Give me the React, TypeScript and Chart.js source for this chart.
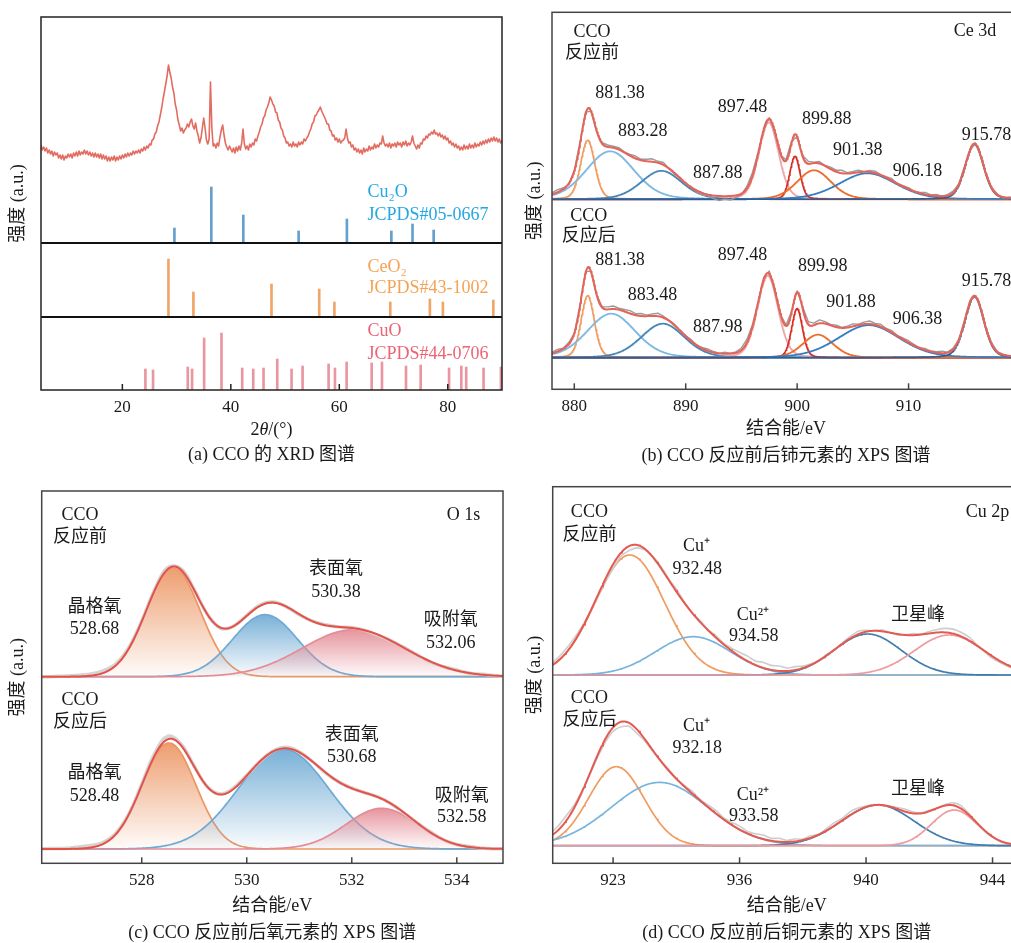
import React, { useEffect, useRef } from 'react';
import { Chart, registerables } from 'chart.js';

Chart.register(...registerables);

const FONT = '"Liberation Serif", "Noto Sans CJK SC", serif';
const INK = '#1a1a1a';

// ================= (a) XRD =================
// measured every 0.25° from 5° to 90°
const xrdStart = 5;
const xrdStep = 0.25;
const xrdIntensity = [
  245, 240, 243, 239, 242, 237, 240, 236, 239, 234, 238, 235, 237, 232, 235, 231, 235, 230, 234, 232,
  236, 233, 236, 232, 237, 234, 238, 234, 239, 235, 238, 236, 240, 236, 239, 235, 238, 234, 237, 233,
  237, 233, 236, 232, 236, 231, 235, 231, 234, 229, 233, 229, 233, 230, 234, 229, 233, 230, 234, 231,
  235, 232, 236, 233, 237, 234, 237, 235, 239, 236, 239, 237, 240, 237, 241, 239, 243, 240, 244, 242,
  246, 245, 250, 251, 256, 258, 264, 268, 275, 282, 291, 298, 306, 314, 325, 318, 312, 303, 297, 286,
  280, 270, 265, 259, 262, 257, 260, 262, 266, 263, 268, 271, 264, 261, 267, 259, 254, 247, 252, 262,
  272, 262, 250, 246, 251, 308, 262, 244, 246, 242, 247, 244, 253, 260, 265, 255, 247, 243, 240, 244,
  241, 238, 242, 237, 243, 239, 244, 240, 247, 261, 246, 241, 244, 240, 246, 243, 247, 245, 251, 249,
  254, 258, 263, 266, 272, 274, 280, 283, 287, 293, 290, 286, 284, 278, 277, 270, 268, 262, 260, 254,
  252, 247, 248, 244, 246, 243, 248, 244, 246, 243, 248, 245, 248, 246, 251, 249, 252, 254, 258, 261,
  266, 268, 274, 275, 278, 280, 283, 279, 276, 273, 270, 266, 266, 260, 259, 254, 255, 250, 252, 248,
  251, 247, 249, 250, 252, 261, 252, 247, 248, 243, 245, 240, 242, 238, 241, 237, 240, 236, 242, 238,
  241, 239, 244, 240, 243, 241, 246, 242, 245, 243, 247, 246, 254, 247, 244, 246, 243, 247, 242, 246,
  244, 247, 243, 248, 245, 247, 243, 248, 245, 249, 244, 247, 245, 248, 254, 247, 244, 241, 245, 242,
  247, 246, 251, 250, 254, 252, 256, 255, 258, 256, 260, 256, 257, 254, 257, 253, 255, 251, 254, 250,
  252, 247, 249, 245, 247, 243, 246, 242, 244, 240, 243, 240, 245, 241, 244, 241, 246, 242, 245, 242,
  247, 243, 246, 244, 248, 245, 249, 246, 250, 247, 251, 248, 252, 249, 253, 249, 252, 248, 251, 247,
  250,
];
const xrdTicks = [20, 40, 60, 80];

const cu2oAngles = [29.6, 36.4, 42.3, 52.5, 61.4, 69.6, 73.5, 77.4];
const cu2oHeights = [15, 56, 28, 12, 24, 12, 19, 13];
const ceo2Angles = [28.5, 33.1, 47.5, 56.3, 59.1, 69.4, 76.7, 79.1, 88.4];
const ceo2Heights = [58, 25, 33, 28, 15, 15, 18, 15, 17];
const cuoAngles = [24.25, 25.66, 32.06, 32.86, 35.08, 38.28, 42.1, 44.13, 46.03, 48.56, 51.2, 53.23, 58.03, 59.2, 61.35, 65.97, 67.87, 72.3, 75.0, 80.24, 82.5, 83.4, 86.6, 89.8];
const cuoHeights = [21, 20, 23, 21, 52, 57, 22, 21, 22, 31, 21, 24, 26, 22, 28, 27, 28, 24, 25, 22, 24, 23, 22, 23];
// offsets of the three stacked sub-panels (a.u.)
const cu2oBase = 147;
const ceo2Base = 73;
const cuoBase = 0;

// ================= (b) Ce 3d =================
const ceTicks = [880, 890, 900, 910];
const ceBaseBefore = 190;
const ceBaseAfter = 31.6;
const ceCentersBefore = [881.2, 883.2, 887.8, 897.44, 899.8, 901.5, 906.3, 915.9];
const ceHeightsBefore = [59, 48, 28.5, 77, 43, 29, 26, 55];
const ceWidthsBefore = [1.5, 5.1, 4.3, 2.1, 1.1, 3.6, 6.0, 1.95];
const ceCentersAfter = [881.2, 883.3, 887.93, 897.35, 899.99, 901.85, 906.42, 915.9];
const ceHeightsAfter = [62, 44, 34, 82, 49, 23, 32.5, 61];
const ceWidthsAfter = [1.4, 5.1, 4.6, 2.2, 1.15, 3.2, 6.5, 2.0];
const ceRawStart = 878;
const ceRawStep = 0.5;
const ceResidualBefore = [
  1.5, 2.5, 1, -1, 0.5, 1.5, 2, 0, -1, 1, 2, 1.5, 2, 0.5, 1.5, 2.5, 1, 2, 3, 1.5,
  2.5, 0, -1, 1, -0.5, 0.5, -1.5, -2, -1, -3, -4.5, -3, -4, -2, -1, 2, 3, 1, -1, 1.5,
  0, -2, 1, 2, 0, 1, 2.5, 1, 2, 0.5, 2, 1.5, 3, 1, 1.5, 2, 0, 1.5, 2, 0.5,
  1, 2, 0, 1, 1.5, 0, 1, 2, 0.5, 1.5, 0, 1, 1.5, 0, 1, -1, 1, 0, -0.5, 1,
  0.5, -1, 0.5, 1, 0,
];
const ceResidualAfter = [
  1, 2, 0.5, 1.5, -0.5, 1, 2, 0.5, -0.5, 1, 2.5, 3, 1.5, 2, 3, 1.5, 2.5, 1, 2, 3,
  1.5, 0.5, 1, -0.5, 0.5, 1.5, 0, 1, 2, 1, 0, 1.5, 0.5, 1, 2, 3, 1.5, 0, 2, 3,
  1, -1, 1, 0.5, 1.5, 2, 3, 2, 3.5, 2, 1, 2, 0.5, 1.5, 2.5, 1, 2, 3, 1.5, 2.5,
  1, 2, 0.5, 1.5, 2, 1, 0, 1.5, 0.5, 1, 2, 0.5, 1, -0.5, 1, 2, 0.5, 1, 0, 1.5,
  0.5, 1, 0, 0.5, 0,
];

// ================= (c) O 1s =================
const oTicks = [528, 530, 532, 534];
const oBaseBefore = 186.6;
const oBaseAfter = 14.3;
const oCentersBefore = [528.6, 530.35, 532.03];
const oHeightsBefore = [109, 62, 47];
const oWidthsBefore = [1.21, 1.45, 2.3];
const oCentersAfter = [528.52, 530.7, 532.57];
const oHeightsAfter = [106, 99.7, 40.7];
const oWidthsAfter = [1.2, 2.03, 1.6];
const oRawStart = 526;
const oRawStep = 0.25;
const oResidualBefore = [0, 0, 0.5, 1, 1.5, 2, 1.5, 1, 0.5, 1, 1.5, 1, 0.5, 0, -0.5, 0, 0.5, 1, 0.5, 0, -0.5, 0, 0.5, 0, 0.5, 0, -0.5, 0, 0.5, 0, -0.5, 0, 0.5, 0, 0.5, 0, 0];
const oResidualAfter = [0, 0.5, 0.5, 1.5, 2, 1.5, 1, 0.5, 1, 2, 3, 1.5, 0.5, 0, 0.5, 1, 0.5, 0, 0.5, 1, 0.5, 0, -0.5, 0, 0.5, 0, 0.5, 0, -0.5, 0, 0.5, 0, 0, 0.5, 0, 0, 0];

// ================= (d) Cu 2p =================
const cuTickValues = [932, 936, 940, 944];
const cuTickLabels = ['923', '936', '940', '944'];
const cuBaseBefore = 188.3;
const cuBaseAfter = 17.6;
const cuCentersBefore = [932.53, 934.53, 940.05, 942.63];
const cuHeightsBefore = [120, 38.3, 41, 40];
const cuWidthsBefore = [2.58, 2.8, 2.5, 2.6];
const cuCentersAfter = [932.1, 933.47, 940.37, 942.79];
const cuHeightsAfter = [79, 63.3, 40.7, 35.7];
const cuWidthsAfter = [2.05, 3.6, 2.7, 1.7];
const cuRawStart = 930;
const cuRawStep = 0.25;
const cuResidualBefore = [
  2, 3, 4, 3.5, 2, 0, -1.5, -3, -4, -3.5, -4.5, -3, -1, 0.5, 2, 1, 2.5, 1, 0, 1.5,
  0.5, 2, 1, 2.5, 4, 5, 4, 5.5, 4.5, 5, 3, 3.5, 2, 1, 0, 1, -0.5, 1, 2, 3,
  1.5, 0, 1.5, 0, -1, 0.5, 1.5, 0.5, 2, 3, 4, 4.5, 4, 3.5, 1, -1, -2, -1.5, -1, -0.5,
  0,
];
const cuResidualAfter = [
  3, 4, 5, 3, 1, -1, -2, -3, -4, -5, -3.5, -4, -2, -1, 0.5, 1.5, 0, 1, 2.5, 1,
  2, 3, 1.5, 2.5, 3.5, 2, 3, 4, 2.5, 3.5, 1.5, 2.5, 1, 2, 0.5, 2, 3, 2, 3.5, 2.5,
  1, 0.5, -0.5, 0.5, 1.5, 2.5, 1.5, 0.5, 1, 0, 1, 2.5, 3, 1.5, 0, -1, -0.5, -1, 0, 0.5,
  0,
];

// ================= helpers =================
const pv = (x: number, c: number, h: number, w: number, eta: number) => {
  const d = (x - c) / w;
  return h * ((1 - eta) * Math.exp(-4 * Math.LN2 * d * d) + eta / (1 + 4 * d * d));
};

const evalGrid = (min: number, max: number, step: number) => {
  const g: number[] = [];
  for (let i = 0; ; i++) {
    const x = min + i * step;
    if (x > max + 1e-9) break;
    g.push(x);
  }
  return g;
};

const lineDs = (extra: any) => ({
  showLine: true,
  pointRadius: 0,
  pointHoverRadius: 0,
  fill: false,
  tension: 0,
  borderJoinStyle: 'round',
  ...extra,
});

const gradFill = (rgb: string, base: number, h: number) => (c: any) => {
  const chart = c.chart;
  if (!chart.chartArea) return 'rgba(0,0,0,0)';
  const ys = chart.scales.y;
  const t = ys.getPixelForValue(base + h);
  const b = ys.getPixelForValue(base);
  const g = chart.ctx.createLinearGradient(0, t, 0, b);
  g.addColorStop(0, `rgba(${rgb},0.92)`);
  g.addColorStop(1, `rgba(${rgb},0.03)`);
  return g;
};

interface SpecOpts {
  grid: number[];
  base: number;
  centers: number[];
  heights: number[];
  widths: number[];
  eta: number;
  colors: string[];
  envColor: string;
  rawColor: string;
  rawWidth: number;
  rawTension: number;
  rawStart: number;
  rawStep: number;
  residual: number[];
  fill?: boolean;
}

function spectrum(o: SpecOpts) {
  const env = (x: number) => o.centers.reduce((s, c, k) => s + pv(x, c, o.heights[k], o.widths[k], o.eta), 0);
  const ds: any[] = [];
  ds.push(lineDs({ data: o.grid.map((x) => ({ x, y: o.base + env(x) })), borderColor: o.envColor, borderWidth: 2, order: 0 }));
  ds.push(
    lineDs({
      data: o.residual.map((r, i) => {
        const x = o.rawStart + i * o.rawStep;
        return { x, y: o.base + env(x) + r };
      }),
      borderColor: o.rawColor,
      borderWidth: o.rawWidth,
      tension: o.rawTension,
      order: 1,
    })
  );
  const n = o.centers.length;
  o.centers.forEach((c, k) => {
    const rgb = o.colors[k];
    ds.push(
      lineDs({
        data: o.grid.map((x) => ({ x, y: o.base + pv(x, c, o.heights[k], o.widths[k], o.eta) })),
        borderColor: `rgb(${rgb})`,
        borderWidth: 1.7,
        order: 2 + (n - k),
        fill: o.fill ? { value: o.base } : false,
        backgroundColor: o.fill ? gradFill(rgb, o.base, o.heights[k]) : 'rgba(0,0,0,0)',
      })
    );
  });
  return ds;
}

type Txt = { x: number; y: number; text: string; color?: string; align?: CanvasTextAlign };
type Part = { t: string; italic?: boolean };

function decor(texts: Txt[], frameColor: string, separators: number[] = [], xTitleParts?: Part[]) {
  return {
    id: 'decor',
    afterDraw(chart: any) {
      const { ctx, chartArea: a, scales } = chart;
      const xs = scales.x;
      const ys = scales.y;
      ctx.save();
      ctx.strokeStyle = '#111';
      ctx.lineWidth = 2;
      for (const v of separators) {
        const py = ys.getPixelForValue(v);
        ctx.beginPath();
        ctx.moveTo(a.left, py);
        ctx.lineTo(a.right, py);
        ctx.stroke();
      }
      ctx.strokeStyle = frameColor;
      ctx.lineWidth = 1.5;
      for (const t of xs.ticks) {
        const px = xs.getPixelForValue(t.value);
        ctx.beginPath();
        ctx.moveTo(px, a.bottom);
        ctx.lineTo(px, a.bottom - 6);
        ctx.stroke();
      }
      ctx.strokeRect(a.left, a.top, a.right - a.left, a.bottom - a.top);
      ctx.textBaseline = 'middle';
      ctx.font = `18px ${FONT}`;
      for (const t of texts) {
        ctx.fillStyle = t.color || INK;
        ctx.textAlign = t.align || 'center';
        ctx.fillText(t.text, xs.getPixelForValue(t.x), ys.getPixelForValue(t.y));
      }
      if (xTitleParts) {
        const fontOf = (p: Part) => `${p.italic ? 'italic ' : ''}18px ${FONT}`;
        let total = 0;
        for (const p of xTitleParts) {
          ctx.font = fontOf(p);
          total += ctx.measureText(p.t).width;
        }
        let x = (a.left + a.right) / 2 - total / 2;
        const y = xs.bottom - 10.8;
        ctx.textAlign = 'left';
        ctx.fillStyle = INK;
        for (const p of xTitleParts) {
          ctx.font = fontOf(p);
          ctx.fillText(p.t, x, y);
          x += ctx.measureText(p.t).width;
        }
      }
      ctx.restore();
    },
  };
}

interface BaseOpts {
  xMin: number;
  xMax: number;
  yMax: number;
  ticks: number[];
  tickLabels?: string[];
  xTitle: string;
  showXTitle?: boolean;
  caption: string;
  yAxisWidth: number;
  yTitlePad: number;
  pad: { top: number; right: number; bottom: number };
  xAxisHeight: number;
  captionPad: number;
}

function baseOptions(p: BaseOpts): any {
  return {
    responsive: false,
    animation: false,
    events: [],
    layout: { padding: { left: 0, top: p.pad.top, right: p.pad.right, bottom: p.pad.bottom } },
    plugins: {
      legend: { display: false },
      tooltip: { enabled: false },
      title: {
        display: true,
        position: 'bottom',
        fullSize: false,
        text: p.caption,
        color: INK,
        font: { family: FONT, size: 18, weight: 'normal', lineHeight: 1.2 },
        padding: { top: p.captionPad, bottom: 0 },
      },
    },
    scales: {
      x: {
        type: 'linear',
        min: p.xMin,
        max: p.xMax,
        offset: false,
        afterBuildTicks: (s: any) => {
          s.ticks = p.ticks.map((v) => ({ value: v }));
        },
        afterFit: (s: any) => {
          s.height = p.xAxisHeight;
        },
        grid: { display: false, drawTicks: false },
        border: { display: false },
        ticks: {
          padding: 7,
          color: INK,
          maxRotation: 0,
          autoSkip: false,
          font: { family: FONT, size: 17 },
          callback: (v: any, i: number) => (p.tickLabels ? p.tickLabels[i] : String(v)),
        },
        title: {
          display: p.showXTitle !== false,
          text: p.xTitle,
          color: INK,
          font: { family: FONT, size: 18, lineHeight: 1.2 },
          padding: { top: 0, bottom: 0 },
        },
      },
      y: {
        type: 'linear',
        min: 0,
        max: p.yMax,
        afterFit: (s: any) => {
          s.width = p.yAxisWidth;
        },
        grid: { display: false, drawTicks: false },
        border: { display: false },
        ticks: { display: false },
        title: {
          display: true,
          text: '强度 (a.u.)',
          color: INK,
          font: { family: FONT, size: 18, lineHeight: 1.2 },
          padding: { top: p.yTitlePad, bottom: 0 },
        },
      },
    },
  };
}

// ================= panel builders =================
function makeA(): any {
  const sticks = (angles: number[], heights: number[], base: number, color: string) => ({
    type: 'bar',
    data: angles.map((a, i) => ({ x: a, y: [base, base + heights[i]] })),
    backgroundColor: color,
    borderWidth: 0,
    barThickness: 2,
    grouped: false,
    order: 3,
  });
  const texts: Txt[] = [
    { x: 65.2, y: 197.3, text: 'Cu₂O', color: 'rgb(35,168,225)', align: 'left' },
    { x: 65.2, y: 175, text: 'JCPDS#05-0667', color: 'rgb(35,168,225)', align: 'left' },
    { x: 65.2, y: 122.7, text: 'CeO₂', color: 'rgb(243,163,85)', align: 'left' },
    { x: 65.2, y: 101.7, text: 'JCPDS#43-1002', color: 'rgb(243,163,85)', align: 'left' },
    { x: 65.2, y: 59, text: 'CuO', color: 'rgb(236,100,115)', align: 'left' },
    { x: 65.2, y: 36, text: 'JCPDS#44-0706', color: 'rgb(236,100,115)', align: 'left' },
  ];
  const options = baseOptions({
    xMin: 5, xMax: 90, yMax: 373, ticks: xrdTicks, xTitle: '2θ/(°)', showXTitle: false, caption: '(a) CCO 的 XRD 图谱',
    yAxisWidth: 41, yTitlePad: 7, pad: { top: 17, right: 8, bottom: 4.4 }, xAxisHeight: 51, captionPad: 3,
  });
  return {
    type: 'scatter',
    data: {
      datasets: [
        lineDs({ data: xrdIntensity.map((v, i) => ({ x: xrdStart + i * xrdStep, y: v })), borderColor: 'rgb(226,108,96)', borderWidth: 1.6, order: 1 }),
        sticks(cu2oAngles, cu2oHeights, cu2oBase, 'rgb(100,160,205)'),
        sticks(ceo2Angles, ceo2Heights, ceo2Base, 'rgb(240,165,105)'),
        sticks(cuoAngles, cuoHeights, cuoBase, 'rgb(234,150,160)'),
      ],
    },
    options,
    plugins: [decor(texts, '#222', [cu2oBase, ceo2Base], [{ t: '2' }, { t: 'θ', italic: true }, { t: '/(°)' }])],
  };
}

function makeB(): any {
  const grid = evalGrid(878, 920, 0.05);
  const colors = ['242,155,95', '125,185,225', '70,135,185', '238,165,170', '215,45,35', '236,110,45', '50,125,195', '45,95,150'];
  const common = { grid, eta: 0.2, colors, envColor: 'rgb(228,100,90)', rawColor: 'rgb(155,155,155)', rawWidth: 1.4, rawTension: 0, rawStart: ceRawStart, rawStep: ceRawStep };
  const ds = [
    ...spectrum({ ...common, base: ceBaseBefore, centers: ceCentersBefore, heights: ceHeightsBefore, widths: ceWidthsBefore, residual: ceResidualBefore }),
    ...spectrum({ ...common, base: ceBaseAfter, centers: ceCentersAfter, heights: ceHeightsAfter, widths: ceWidthsAfter, residual: ceResidualAfter }),
  ];
  const texts: Txt[] = [
    { x: 881.6, y: 357.3, text: 'CCO' },
    { x: 881.6, y: 336, text: '反应前' },
    { x: 915.96, y: 357.6, text: 'Ce 3d' },
    { x: 884.1, y: 296, text: '881.38' },
    { x: 886.14, y: 257.6, text: '883.28' },
    { x: 892.87, y: 216, text: '887.88' },
    { x: 895.1, y: 282, text: '897.48' },
    { x: 902.65, y: 270.3, text: '899.88' },
    { x: 905.43, y: 238.6, text: '901.38' },
    { x: 910.8, y: 217.6, text: '906.18' },
    { x: 917.0, y: 254.3, text: '915.78' },
    { x: 881.3, y: 173.3, text: 'CCO' },
    { x: 881.3, y: 152.6, text: '反应后' },
    { x: 884.1, y: 129.3, text: '881.38' },
    { x: 887.03, y: 94.3, text: '883.48' },
    { x: 892.87, y: 62, text: '887.98' },
    { x: 895.1, y: 134.3, text: '897.48' },
    { x: 902.3, y: 122.6, text: '899.98' },
    { x: 904.83, y: 86.6, text: '901.88' },
    { x: 910.8, y: 70, text: '906.38' },
    { x: 917.0, y: 107.6, text: '915.78' },
  ];
  const options = baseOptions({
    xMin: 878, xMax: 920, yMax: 377, ticks: ceTicks, xTitle: '结合能/eV', caption: '(b) CCO 反应前后铈元素的 XPS 图谱',
    yAxisWidth: 47, yTitlePad: 19, pad: { top: 12.3, right: 15, bottom: 2.5 }, xAxisHeight: 51, captionPad: 5.6,
  });
  return { type: 'scatter', data: { datasets: ds }, options, plugins: [decor(texts, '#444')] };
}

function makeC(): any {
  const grid = evalGrid(526.095, 534.88, 0.02);
  const colors = ['236,150,100', '110,170,212', '228,140,150'];
  const common = { grid, eta: 0, colors, envColor: 'rgb(230,80,70)', rawColor: 'rgb(212,212,212)', rawWidth: 3.5, rawTension: 0.4, rawStart: oRawStart, rawStep: oRawStep, fill: true };
  const ds = [
    ...spectrum({ ...common, base: oBaseBefore, centers: oCentersBefore, heights: oHeightsBefore, widths: oWidthsBefore, residual: oResidualBefore }),
    ...spectrum({ ...common, base: oBaseAfter, centers: oCentersAfter, heights: oHeightsAfter, widths: oWidthsAfter, residual: oResidualAfter }),
  ];
  const texts: Txt[] = [
    { x: 526.825, y: 348.3, text: 'CCO' },
    { x: 526.825, y: 326, text: '反应前' },
    { x: 534.13, y: 348.3, text: 'O 1s' },
    { x: 527.1, y: 255.6, text: '晶格氧' },
    { x: 527.1, y: 234, text: '528.68' },
    { x: 531.7, y: 294, text: '表面氧' },
    { x: 531.7, y: 270.6, text: '530.38' },
    { x: 533.886, y: 242.6, text: '吸附氧' },
    { x: 533.886, y: 220, text: '532.06' },
    { x: 526.825, y: 162.6, text: 'CCO' },
    { x: 526.825, y: 140.6, text: '反应后' },
    { x: 527.1, y: 90, text: '晶格氧' },
    { x: 527.1, y: 66.6, text: '528.48' },
    { x: 532.0, y: 128.3, text: '表面氧' },
    { x: 532.0, y: 106, text: '530.68' },
    { x: 534.095, y: 66.6, text: '吸附氧' },
    { x: 534.095, y: 46, text: '532.58' },
  ];
  const options = baseOptions({
    xMin: 526.095, xMax: 534.88, yMax: 372.3, ticks: oTicks, xTitle: '结合能/eV', caption: '(c) CCO 反应前后氧元素的 XPS 图谱',
    yAxisWidth: 41.7, yTitlePad: 7, pad: { top: 11, right: 7, bottom: 5.9 }, xAxisHeight: 54, captionPad: 5.2,
  });
  return { type: 'scatter', data: { datasets: ds }, options, plugins: [decor(texts, '#444')] };
}

function makeD(): any {
  const grid = evalGrid(930.09, 944.9, 0.03);
  const colors = ['240,155,95', '120,180,222', '65,125,175', '238,155,160'];
  const common = { grid, eta: 0, colors, envColor: 'rgb(228,90,80)', rawColor: 'rgb(205,205,205)', rawWidth: 1.6, rawTension: 0.2, rawStart: cuRawStart, rawStep: cuRawStep };
  const ds = [
    ...spectrum({ ...common, base: cuBaseBefore, centers: cuCentersBefore, heights: cuHeightsBefore, widths: cuWidthsBefore, residual: cuResidualBefore }),
    ...spectrum({ ...common, base: cuBaseAfter, centers: cuCentersAfter, heights: cuHeightsAfter, widths: cuWidthsAfter, residual: cuResidualAfter }),
  ];
  const texts: Txt[] = [
    { x: 931.25, y: 351, text: 'CCO' },
    { x: 931.25, y: 328.3, text: '反应前' },
    { x: 943.84, y: 351, text: 'Cu 2p' },
    { x: 934.64, y: 316.6, text: 'Cu⁺' },
    { x: 934.66, y: 294, text: '932.48' },
    { x: 936.42, y: 248.3, text: 'Cu²⁺' },
    { x: 936.45, y: 226.6, text: '934.58' },
    { x: 941.64, y: 248.3, text: '卫星峰' },
    { x: 931.25, y: 165, text: 'CCO' },
    { x: 931.25, y: 142.6, text: '反应后' },
    { x: 934.64, y: 136.6, text: 'Cu⁺' },
    { x: 934.66, y: 115, text: '932.18' },
    { x: 936.42, y: 68.3, text: 'Cu²⁺' },
    { x: 936.45, y: 47.3, text: '933.58' },
    { x: 941.64, y: 74, text: '卫星峰' },
  ];
  const options = baseOptions({
    xMin: 930.09, xMax: 944.9, yMax: 376.6, ticks: cuTickValues, tickLabels: cuTickLabels, xTitle: '结合能/eV', caption: '(d) CCO 反应前后铜元素的 XPS 图谱',
    yAxisWidth: 47.7, yTitlePad: 19, pad: { top: 6.7, right: 14, bottom: 5.9 }, xAxisHeight: 54, captionPad: 5.2,
  });
  return { type: 'scatter', data: { datasets: ds }, options, plugins: [decor(texts, '#444')] };
}

function ChartPanel({ left, top, width, height, make }: { left: number; top: number; width: number; height: number; make: () => any }) {
  const ref = useRef<HTMLCanvasElement>(null);
  useEffect(() => {
    if (!ref.current) return;
    const chart = new Chart(ref.current, make());
    return () => chart.destroy();
  }, []);
  return <canvas ref={ref} width={width} height={height} style={{ position: 'absolute', left, top, width, height }} />;
}

export default function App() {
  return (
    <div style={{ position: 'absolute', left: 0, top: 0, width: 1011, height: 943, overflow: 'hidden', background: '#fff' }}>
      <ChartPanel left={0} top={0} width={510} height={470} make={makeA} />
      <ChartPanel left={505} top={0} width={530} height={470} make={makeB} />
      <ChartPanel left={0} top={480} width={510} height={470} make={makeC} />
      <ChartPanel left={505} top={480} width={530} height={470} make={makeD} />
    </div>
  );
}
